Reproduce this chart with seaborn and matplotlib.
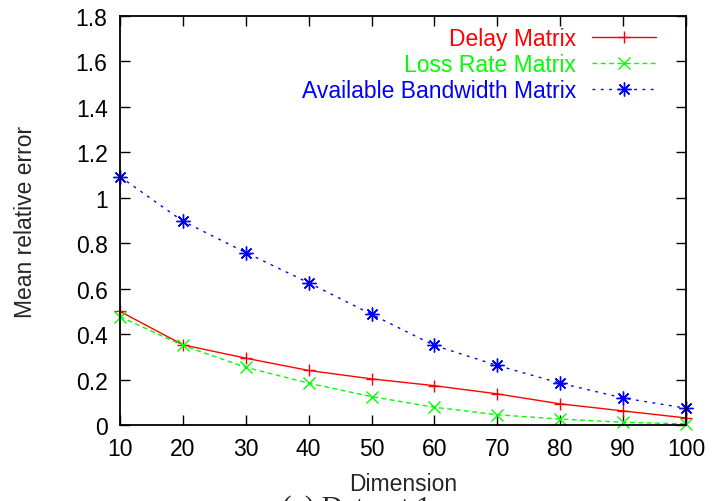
import seaborn as sns
import pandas as pd
import matplotlib.pyplot as plt
from matplotlib.ticker import FuncFormatter

# data
dimension = [10, 20, 30, 40, 50, 60, 70, 80, 90, 100]
delay_err = [0.50, 0.353, 0.294, 0.240, 0.203, 0.173, 0.137, 0.093, 0.062, 0.031]
loss_err = [0.477, 0.350, 0.254, 0.184, 0.125, 0.078, 0.045, 0.026, 0.012, 0.005]
bw_err = [1.093, 0.897, 0.759, 0.626, 0.487, 0.350, 0.262, 0.184, 0.119, 0.074]

series_names = ['Delay Matrix', 'Loss Rate Matrix', 'Available Bandwidth Matrix']
series_vals = [delay_err, loss_err, bw_err]
series_colors = ['#ff0000', '#00ff00', '#0000ff']
series_markers = ['+', 'x', (8, 2, 0)]
series_msize = [9, 8, 10]
series_dashes = [None, (3.5, 2.5), (2, 4)]

x_ticks = [10, 20, 30, 40, 50, 60, 70, 80, 90, 100]
y_ticks = [0, 0.2, 0.4, 0.6, 0.8, 1.0, 1.2, 1.4, 1.6, 1.8]

sns.set_style('ticks')
plt.rcParams['font.family'] = ['Liberation Sans', 'DejaVu Sans']

fig = plt.figure(figsize=(7.14, 5.02), dpi=100)
ax = fig.add_axes([120 / 714, 1 - 426 / 502, (686 - 120) / 714, (426 - 17) / 502])

for name, vals, col, mk, ms, ds in zip(series_names, series_vals, series_colors,
                                       series_markers, series_msize, series_dashes):
    df = pd.DataFrame({'Dimension': dimension, 'err': vals})
    sns.lineplot(data=df, x='Dimension', y='err', ax=ax, color=col, marker=mk,
                 markersize=ms, markeredgecolor=col, markeredgewidth=1.0,
                 linewidth=1.0, label=name)
    line = ax.lines[-1]
    if ds is not None:
        line.set_dashes(ds)
    line.set_clip_on(False)

ax.set_xlim(10, 100)
ax.set_ylim(0, 1.8)
ax.set_xticks(x_ticks)
ax.set_yticks(y_ticks)
ax.yaxis.set_major_formatter(FuncFormatter(lambda v, p: f'{v:g}'))
ax.tick_params(direction='in', length=7, width=1, top=True, right=True,
               labelsize=16.5, pad=9, colors='black')
for sp in ax.spines.values():
    sp.set_linewidth(1.3)
    sp.set_color('black')

ax.set_xlabel('Dimension', fontsize=16.5, labelpad=8)
ax.set_ylabel('Mean relative error', fontsize=16.5, labelpad=28)

leg = ax.legend(loc='upper right', bbox_to_anchor=(0.976, 1.012), frameon=False,
                markerfirst=False, fontsize=16.5, handlelength=2.8,
                handletextpad=0.7, labelspacing=0.12, borderaxespad=0.3)
for txt, col in zip(leg.get_texts(), series_colors):
    txt.set_color(col)

fig.text(282 / 714, 1 - 495 / 502, '(a) Dataset 1', fontsize=21,
         family=['Liberation Serif', 'DejaVu Serif'], ha='left', va='top')

fig.savefig('out.png', dpi=100)
